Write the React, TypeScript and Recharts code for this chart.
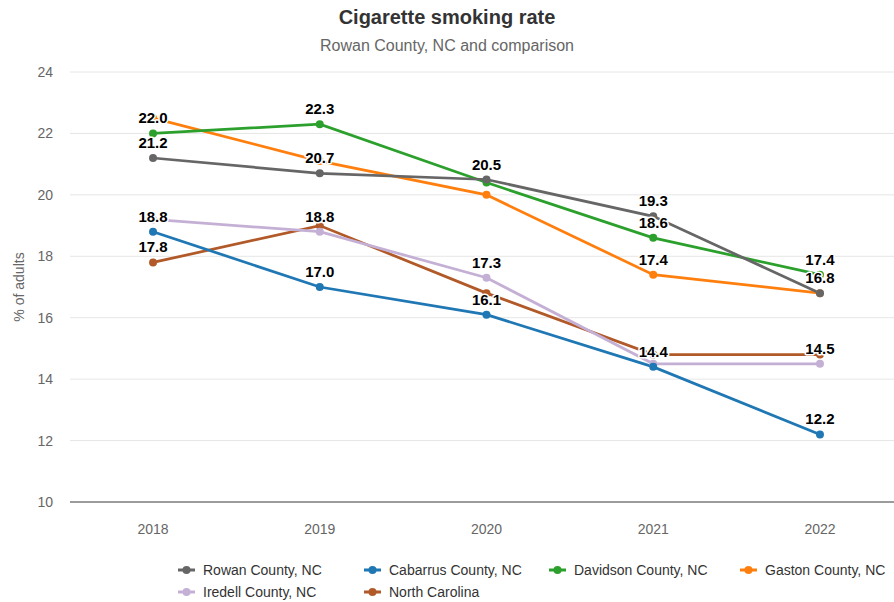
import React from "react";
import {
  LineChart,
  Line,
  XAxis,
  YAxis,
  CartesianGrid,
  LabelList,
} from "recharts";

const years = [2018, 2019, 2020, 2021, 2022];
const rowan = [21.2, 20.7, 20.5, 19.3, 16.8];
const cabarrus = [18.8, 17.0, 16.1, 14.4, 12.2];
const davidson = [22.0, 22.3, 20.4, 18.6, 17.4];
const gaston = [22.5, 21.1, 20.0, 17.4, 16.8];
const iredell = [19.2, 18.8, 17.3, 14.5, 14.5];
const northCarolina = [17.8, 19.0, 16.8, 14.8, 14.8];
const yTicks = [10, 12, 14, 16, 18, 20, 22, 24];

const SERIES = [
  { key: "rowan", name: "Rowan County, NC", color: "#666666", values: rowan },
  { key: "cabarrus", name: "Cabarrus County, NC", color: "#1f77b4", values: cabarrus },
  { key: "davidson", name: "Davidson County, NC", color: "#2ca02c", values: davidson },
  { key: "gaston", name: "Gaston County, NC", color: "#ff7f0e", values: gaston },
  { key: "iredell", name: "Iredell County, NC", color: "#c5b0d5", values: iredell },
  { key: "nc", name: "North Carolina", color: "#b15928", values: northCarolina },
];

const data = years.map((year, i) => {
  const row: Record<string, number> = { year };
  SERIES.forEach((s) => (row[s.key] = s.values[i]));
  return row;
});

// earlier series win when labels at the same year would collide
const labelShown = (seriesIdx: number, i: number) => {
  const shown: number[] = [];
  for (let s = 0; s <= seriesIdx; s++) {
    const v = SERIES[s].values[i];
    const clash = shown.some((o) => Math.abs(o - v) < 0.55);
    if (s === seriesIdx) return !clash;
    if (!clash) shown.push(v);
  }
  return false;
};

const FONT = "'Liberation Sans', Arial, sans-serif";

const makeLabel = (seriesIdx: number) => (props: any) => {
  const { x, y, value, index } = props;
  if (!labelShown(seriesIdx, index)) return null;
  return (
    <text
      x={x}
      y={y - 10}
      textAnchor="middle"
      fontSize={15}
      fontWeight="bold"
      fill="#000"
      stroke="#fff"
      strokeWidth={3}
      strokeLinejoin="round"
      paintOrder="stroke"
      fontFamily={FONT}
    >
      {Number(value).toFixed(1)}
    </text>
  );
};

const legendCols = [178, 364, 549, 740];

function ChartLegend() {
  return (
    <div style={{ position: "absolute", left: 0, top: 561, width: 894, fontFamily: FONT, fontSize: 14, color: "#333" }}>
      {SERIES.map((s, i) => (
        <div
          key={s.key}
          style={{
            position: "absolute",
            left: legendCols[i % 4],
            top: Math.floor(i / 4) * 22,
            display: "flex",
            alignItems: "center",
            height: 18,
            whiteSpace: "nowrap",
          }}
        >
          <svg width={17} height={10} style={{ marginRight: 8 }}>
            <line x1={0} y1={5} x2={17} y2={5} stroke={s.color} strokeWidth={3} />
            <circle cx={8.5} cy={5} r={4} fill={s.color} />
          </svg>
          <span>{s.name}</span>
        </div>
      ))}
    </div>
  );
}

export default function App() {
  return (
    <div style={{ position: "absolute", left: 0, top: 0, width: 894, height: 602, background: "#fff" }}>
      <div
        style={{
          position: "absolute",
          top: 6,
          width: 894,
          textAlign: "center",
          fontFamily: FONT,
          fontWeight: "bold",
          fontSize: 20,
          color: "#333",
        }}
      >
        Cigarette smoking rate
      </div>
      <div
        style={{
          position: "absolute",
          top: 37,
          width: 894,
          textAlign: "center",
          fontFamily: FONT,
          fontSize: 16,
          color: "#666",
        }}
      >
        Rowan County, NC and comparison
      </div>
      <LineChart
        width={894}
        height={602}
        data={data}
        margin={{ top: 72, right: 0, bottom: 70, left: 0 }}
        style={{ fontFamily: FONT }}
      >
        <CartesianGrid horizontal vertical={false} stroke="#e6e6e6" />
        <XAxis
          dataKey="year"
          type="number"
          height={30}
          domain={[2017.502, 2022.444]}
          ticks={years}
          allowDataOverflow
          tickLine={false}
          axisLine={{ stroke: "#444" }}
          tickMargin={16}
          tick={{ fill: "#666", fontSize: 14 }}
        />
        <YAxis
          width={70}
          domain={[10, 24]}
          ticks={yTicks}
          axisLine={false}
          tickLine={false}
          tickMargin={11}
          tick={{ fill: "#666", fontSize: 14 }}
          label={{
            content: ({ viewBox }: any) => (
              <text
                x={20}
                y={viewBox.y + viewBox.height / 2}
                transform={`rotate(-90 20 ${viewBox.y + viewBox.height / 2})`}
                textAnchor="middle"
                dominantBaseline="middle"
                fill="#666"
                fontSize={14}
                fontFamily={FONT}
              >
                % of adults
              </text>
            ),
          }}
        />
        {/* first series sits on top, so draw in reverse */}
        {[...SERIES].reverse().map((s) => (
          <Line
            key={s.key}
            dataKey={s.key}
            name={s.name}
            stroke={s.color}
            strokeWidth={2.75}
            dot={{ r: 4, fill: s.color, stroke: s.color, strokeWidth: 0 }}
            activeDot={false}
            isAnimationActive={false}
          />
        ))}
        {SERIES.map((s, idx) => (
          <Line
            key={s.key + "-labels"}
            dataKey={s.key}
            stroke="none"
            dot={false}
            activeDot={false}
            legendType="none"
            isAnimationActive={false}
          >
            <LabelList dataKey={s.key} content={makeLabel(idx)} />
          </Line>
        ))}
      </LineChart>
      <ChartLegend />
    </div>
  );
}
